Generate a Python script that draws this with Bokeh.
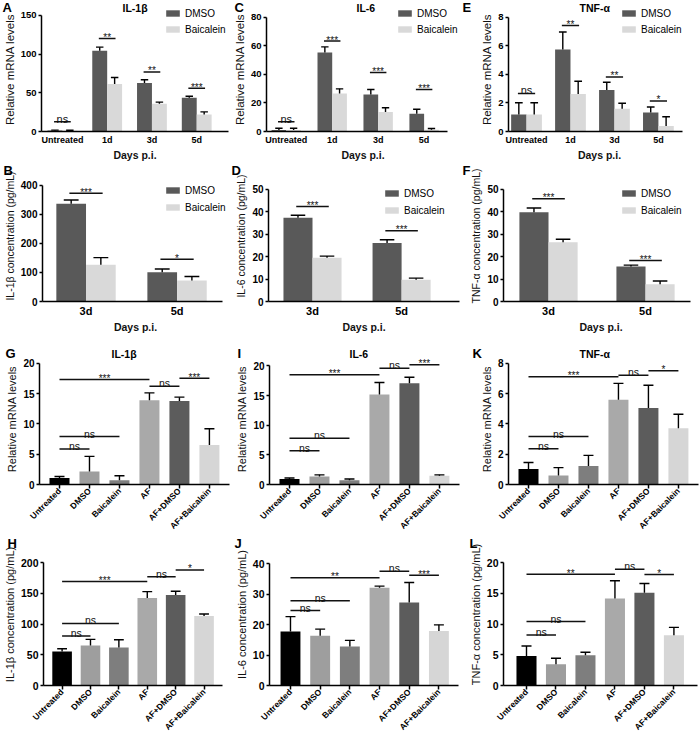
import numpy as np
from bokeh.plotting import figure
from bokeh.models import Range1d, FixedTicker, Legend, LegendItem, Title
from bokeh.layouts import row, column
from bokeh.core.properties import value
from bokeh.embed import file_html
from bokeh.resources import INLINE

FONT = "Liberation Sans"

# ---------------- categories ----------------
TIMES = ["Untreated", "1d", "3d", "5d"]
DAYS = ["3d", "5d"]
GROUPS = ["Untreated", "DMSO", "Baicalein", "AF", "AF+DMSO", "AF+Baicalein"]
SERIES = ["DMSO", "Baicalein"]
SERIES_COLORS = ["#595959", "#d9d9d9"]
GROUP_COLORS = ["#000000", "#9e9e9e", "#7e7e7e", "#a9a9a9", "#5c5c5c", "#d6d6d6"]

# ---------------- A: IL-1b mRNA ----------------
A_DMSO = [1.2, 104.4, 62.5, 43.5]
A_DMSO_ERR = [0.6, 4.6, 4.3, 2.1]
A_BAIC = [1.0, 61.3, 35.9, 22.0]
A_BAIC_ERR = [0.6, 8.4, 2.1, 3.3]
A_SIG_Y = [12.7, 120, 77, 56]
A_SIG = ["ns", "**", "**", "***"]
A_TICKS = [0, 50, 100, 150]

# ---------------- C: IL-6 mRNA ----------------
C_DMSO = [1.0, 55.4, 26.0, 12.4]
C_DMSO_ERR = [1.3, 3.9, 3.4, 3.2]
C_BAIC = [1.0, 26.7, 13.6, 1.2]
C_BAIC_ERR = [1.3, 3.2, 3.0, 0.9]
C_SIG_Y = [6.9, 63.4, 41.4, 29.4]
C_SIG = ["ns", "***", "***", "***"]
C_TICKS = [0, 20, 40, 60, 80]

# ---------------- E: TNF-a mRNA ----------------
E_DMSO = [1.2, 5.75, 2.9, 1.33]
E_DMSO_ERR = [0.82, 1.22, 0.55, 0.39]
E_BAIC = [1.2, 2.62, 1.6, 0.39]
E_BAIC_ERR = [0.82, 0.9, 0.38, 0.64]
E_SIG_Y = [2.67, 7.43, 3.82, 2.14]
E_SIG = ["ns", "**", "**", "*"]
E_TICKS = [0, 2, 4, 6, 8]

# ---------------- B: IL-1b protein ----------------
B_DMSO = [336, 100.6]
B_DMSO_ERR = [13, 11]
B_BAIC = [126, 72.6]
B_BAIC_ERR = [25, 13.4]
B_SIG_Y = [372, 145]
B_SIG = ["***", "*"]
B_TICKS = [0, 100, 200, 300, 400]

# ---------------- D: IL-6 protein ----------------
D_DMSO = [37.3, 26.0]
D_DMSO_ERR = [1.1, 1.5]
D_BAIC = [19.5, 9.7]
D_BAIC_ERR = [0.7, 0.7]
D_SIG_Y = [42.3, 31.5]
D_SIG = ["***", "***"]
D_TICKS = [0, 10, 20, 30, 40, 50]

# ---------------- F: TNF-a protein ----------------
F_DMSO = [39.7, 15.6]
F_DMSO_ERR = [1.9, 0.6]
F_BAIC = [26.4, 7.7]
F_BAIC_ERR = [1.3, 1.4]
F_SIG_Y = [45.7, 18.2]
F_SIG = ["***", "***"]
F_TICKS = [0, 10, 20, 30, 40, 50]

# ---------------- G: IL-1b mRNA, AF ----------------
G_VALS = [1.07, 2.13, 0.69, 13.9, 13.76, 6.5]
G_ERR = [0.26, 2.51, 0.75, 1.2, 0.64, 2.7]
G_SIG_FROM = [0, 3, 4, 0, 0]
G_SIG_TO = [3, 4, 5, 2, 1]
G_SIG_Y = [17.3, 16.2, 17.5, 7.9, 5.87]
G_SIG = ["***", "ns", "***", "ns", "ns"]
G_TICKS = [0, 5, 10, 15, 20]

# ---------------- I: IL-6 mRNA, AF ----------------
I_VALS = [0.92, 1.36, 0.71, 15.2, 17.1, 1.47]
I_ERR = [0.17, 0.27, 0.21, 2.0, 1.0, 0.16]
I_SIG_FROM = [0, 3, 4, 0, 0]
I_SIG_TO = [3, 4, 5, 2, 1]
I_SIG_Y = [18.5, 19.6, 20.2, 7.8, 5.7]
I_SIG = ["***", "ns", "***", "ns", "ns"]
I_TICKS = [0, 5, 10, 15, 20]

# ---------------- K: TNF-a mRNA, AF ----------------
K_VALS = [1.02, 0.6, 1.22, 5.59, 5.05, 3.71]
K_ERR = [0.43, 0.51, 0.7, 1.08, 1.5, 0.92]
K_SIG_FROM = [0, 3, 4, 0, 0]
K_SIG_TO = [3, 4, 5, 2, 1]
K_SIG_Y = [7.1, 7.2, 7.5, 3.16, 2.35]
K_SIG = ["***", "ns", "*", "ns", "ns"]
K_TICKS = [0, 2, 4, 6, 8]

# ---------------- H: IL-1b protein, AF ----------------
H_VALS = [55.4, 65.2, 62, 142.4, 147.3, 113]
H_ERR = [4.4, 9.8, 12.5, 10.3, 6, 3.3]
H_SIG_FROM = [0, 3, 4, 0, 0]
H_SIG_TO = [3, 4, 5, 2, 1]
H_SIG_Y = [169, 177, 188, 101, 80.4]
H_SIG = ["***", "ns", "*", "ns", "ns"]
H_TICKS = [0, 50, 100, 150, 200]

# ---------------- J: IL-6 protein, AF ----------------
J_VALS = [17.7, 16.3, 12.8, 32.1, 27.2, 17.9]
J_ERR = [4.9, 2.2, 2.0, 0.5, 6.6, 2.0]
J_SIG_FROM = [0, 3, 4, 0, 0]
J_SIG_TO = [3, 4, 5, 2, 1]
J_SIG_Y = [35.4, 37.5, 36.2, 27.8, 24.6]
J_SIG = ["**", "ns", "***", "ns", "ns"]
J_TICKS = [0, 10, 20, 30, 40]

# ---------------- L: TNF-a protein, AF ----------------
L_VALS = [4.8, 3.46, 4.92, 14.16, 15.1, 8.16]
L_ERR = [1.63, 0.97, 0.48, 2.87, 1.5, 1.3]
L_SIG_FROM = [0, 3, 4, 0, 0]
L_SIG_TO = [3, 4, 5, 2, 1]
L_SIG_Y = [18.1, 18.9, 18.05, 10.4, 8.2]
L_SIG = ["**", "ns", "*", "ns", "ns"]
L_TICKS = [0, 5, 10, 15, 20]

# ---------------- layout (page pixel boxes) ----------------
C1, C2, C3 = (0, 230), (230, 460), (460, 700)
R1, R2, R3, R4 = (0, 163), (163, 335), (335, 537), (537, 740)

# frame = (left, right, top, bottom) in page px; xr = x range; xend = end of x axis line
LAY = {
    "A": dict(col=C1, row=R1, frame=(40, 228, 7, 133), xr=(-0.467, 3.71), xend=3.71, yend=160.2, bw=0.333),
    "C": dict(col=C2, row=R1, frame=(263, 459, 7, 133), xr=(-0.43, 3.77), xend=3.51, yend=86.9, bw=0.32),
    "E": dict(col=C3, row=R1, frame=(508, 690, 7, 133), xr=(-0.41, 3.73), xend=3.55, yend=8.69, bw=0.35),
    "B": dict(col=C1, row=R2, frame=(40, 228, 170, 304), xr=(-0.478, 1.565), xend=1.5, yend=450.4, bw=0.326),
    "D": dict(col=C2, row=R2, frame=(268, 459, 170, 304), xr=(-0.494, 1.65), xend=1.65, yend=58.3, bw=0.326),
    "F": dict(col=C3, row=R2, frame=(503, 698, 170, 304), xr=(-0.464, 1.546), xend=1.46, yend=58.3, bw=0.30),
    "G": dict(col=C1, row=R3, frame=(39, 229, 353, 488), xr=(-0.667, 5.67), xend=5.67, yend=21.6, bw=0.667),
    "I": dict(col=C2, row=R3, frame=(269, 459, 353, 488), xr=(-0.667, 5.67), xend=5.67, yend=22.1, bw=0.667),
    "K": dict(col=C3, row=R3, frame=(508, 698, 353, 488), xr=(-0.667, 5.67), xend=5.67, yend=8.64, bw=0.667),
    "H": dict(col=C1, row=R4, frame=(39, 224, 543, 685), xr=(-0.655, 5.72), xend=5.66, yend=231, bw=0.69),
    "J": dict(col=C2, row=R4, frame=(269, 458, 543, 685), xr=(-0.707, 5.66), xend=5.66, yend=46.6, bw=0.67),
    "L": dict(col=C3, row=R4, frame=(503, 697, 543, 685), xr=(-0.78, 5.8), xend=5.8, yend=23.1, bw=0.68),
}


def side_text(p, key, text, x_left, size, standoff):
    L = LAY[key]["frame"][0]
    p.add_layout(Title(text=text, align="left", offset=x_left - L, vertical_align="middle",
                       standoff=standoff, text_font=FONT, text_font_size=size,
                       text_font_style="bold", text_color="black"), "above")


def make_fig(cfg, yticks, ylabel, cats, ytick_size, ylabel_size, xtick_size,
             xlabel=None, rotated=False):
    x0, x1 = cfg["col"]
    y0, y1 = cfg["row"]
    L, R, T, B = cfg["frame"]
    p = figure(width=x1 - x0, height=y1 - y0, output_backend="svg", toolbar_location=None,
               x_range=Range1d(*cfg["xr"]), y_range=Range1d(0, cfg["yend"]),
               min_border_left=L - x0, min_border_right=x1 - R,
               min_border_top=T - y0, min_border_bottom=y1 - B)
    p.outline_line_color = None
    p.xgrid.visible = False
    p.ygrid.visible = False
    for ax in (p.xaxis[0], p.yaxis[0]):
        ax.axis_line_width = 1.5
        ax.axis_line_color = "black"
        ax.major_tick_line_width = 1.5
        ax.major_tick_line_color = "black"
        ax.minor_tick_line_color = None
        ax.major_tick_in = 0
        ax.major_label_text_font = FONT
        ax.major_label_text_font_style = "bold"
        ax.major_label_text_color = "black"
        ax.axis_label_text_font = FONT
        ax.axis_label_text_color = "#111111"
    ya = p.yaxis[0]
    ya.ticker = FixedTicker(ticks=yticks, minor_ticks=[])
    ya.bounds = (0, yticks[-1])
    ya.major_tick_out = 3
    ya.major_label_standoff = 2
    ya.major_label_text_font_size = ytick_size
    ya.axis_label = ylabel
    ya.axis_label_standoff = 2
    ya.axis_label_text_font_size = ylabel_size
    ya.axis_label_text_font_style = "normal"
    xa = p.xaxis[0]
    xa.ticker = FixedTicker(ticks=list(range(len(cats))), minor_ticks=[])
    xa.major_label_overrides = {i: c for i, c in enumerate(cats)}
    xa.major_label_text_font_size = xtick_size
    xa.bounds = (cfg["xr"][0], cfg["xend"])
    if rotated:
        xa.major_tick_out = 4
        xa.major_label_standoff = 1
        xa.major_label_orientation = np.pi / 4
    else:
        xa.major_tick_out = 0
        xa.major_label_standoff = 3
    if xlabel:
        xa.axis_label = xlabel
        xa.axis_label_standoff = 1
        xa.axis_label_text_font_size = "10.5px"
        xa.axis_label_text_font_style = "bold"
    return p


def err_bars(p, xs, vals, errs, cap):
    xs = np.asarray(xs, float)
    vals = np.asarray(vals, float)
    tops = vals + np.asarray(errs, float)
    p.segment(x0=xs, y0=vals, x1=xs, y1=tops, line_color="black", line_width=1.4)
    p.segment(x0=xs - cap / 2, y0=tops, x1=xs + cap / 2, y1=tops, line_color="black", line_width=1.4)


def sig_marks(p, xl, xr, ys, labels, ns_size, star_size):
    xl = np.asarray(xl, float)
    xr = np.asarray(xr, float)
    ys = np.asarray(ys, float)
    p.segment(x0=xl, y0=ys, x1=xr, y1=ys, line_color="#111111", line_width=1.5)
    xm = (xl + xr) / 2
    st = [k for k, s in enumerate(labels) if s != "ns"]
    ns = [k for k, s in enumerate(labels) if s == "ns"]
    if st:
        p.text(x=xm[st], y=ys[st], text=[labels[k] for k in st], text_font=value(FONT),
               text_font_size=star_size, text_align="center", text_baseline="alphabetic",
               y_offset=-1, text_color="#111111")
    if ns:
        p.text(x=xm[ns], y=ys[ns], text=[labels[k] for k in ns], text_font=value(FONT),
               text_font_size=ns_size, text_align="center", text_baseline="alphabetic",
               y_offset=-3, text_color="#111111")


def grouped_panel(key, cats, dm, dm_err, bc, bc_err, sig_y, sig, yticks, ylabel,
                  ytick_size, ylabel_size, xtick_size, legend_pos, legend_spacing):
    cfg = LAY[key]
    p = make_fig(cfg, yticks, ylabel, cats, ytick_size, ylabel_size, xtick_size, xlabel="Days p.i.")
    w = cfg["bw"]
    idx = np.arange(len(cats), dtype=float)
    r1 = p.vbar(x=idx - w / 2, top=dm, width=w, fill_color=SERIES_COLORS[0], line_color=None)
    r2 = p.vbar(x=idx + w / 2, top=bc, width=w, fill_color=SERIES_COLORS[1], line_color=None)
    err_bars(p, idx - w / 2, dm, dm_err, w * 0.5)
    err_bars(p, idx + w / 2, bc, bc_err, w * 0.5)
    d = w * 0.56
    sig_marks(p, idx - d, idx + d, sig_y, sig, "11px", "10px")
    L, R, T, B = cfg["frame"]
    lx, lbottom = legend_pos
    leg = Legend(items=[LegendItem(label=SERIES[0], renderers=[r1]),
                        LegendItem(label=SERIES[1], renderers=[r2])],
                 location=(lx - L, B - lbottom), orientation="vertical",
                 glyph_width=17, glyph_height=8, label_height=12, label_standoff=4,
                 spacing=legend_spacing, padding=0, margin=0, border_line_color=None,
                 background_fill_alpha=0, label_text_font=FONT, label_text_font_size="10px",
                 label_text_color="black")
    p.add_layout(leg)
    return p


def group_panel(key, vals, errs, s_from, s_to, sig_y, sig, yticks, ylabel,
                ytick_size, ylabel_size):
    cfg = LAY[key]
    p = make_fig(cfg, yticks, ylabel, GROUPS, ytick_size, ylabel_size, "8.5px", rotated=True)
    w = cfg["bw"]
    idx = np.arange(len(GROUPS), dtype=float)
    p.vbar(x=idx, top=vals, width=w, fill_color=GROUP_COLORS, line_color=None)
    err_bars(p, idx, vals, errs, w * 0.5)
    sig_marks(p, idx[s_from], idx[s_to], sig_y, sig, "10.5px", "10px")
    return p


pA = grouped_panel("A", TIMES, A_DMSO, A_DMSO_ERR, A_BAIC, A_BAIC_ERR, A_SIG_Y, A_SIG, A_TICKS,
                   "Relative mRNA levels", "9.5px", "11.5px", "9px", (163, 37), 4)
pC = grouped_panel("C", TIMES, C_DMSO, C_DMSO_ERR, C_BAIC, C_BAIC_ERR, C_SIG_Y, C_SIG, C_TICKS,
                   "Relative mRNA levels", "9.5px", "11.5px", "9px", (393, 37), 4)
pE = grouped_panel("E", TIMES, E_DMSO, E_DMSO_ERR, E_BAIC, E_BAIC_ERR, E_SIG_Y, E_SIG, E_TICKS,
                   "Relative mRNA levels", "9.5px", "11.5px", "9px", (620, 37), 4)
pB = grouped_panel("B", DAYS, B_DMSO, B_DMSO_ERR, B_BAIC, B_BAIC_ERR, B_SIG_Y, B_SIG, B_TICKS,
                   "IL-1β concentration (pg/mL)", "10px", "10.5px", "11px", (162, 216), 5)
pD = grouped_panel("D", DAYS, D_DMSO, D_DMSO_ERR, D_BAIC, D_BAIC_ERR, D_SIG_Y, D_SIG, D_TICKS,
                   "IL-6 concentration (pg/mL)", "10px", "10.5px", "11px", (383, 219), 5)
pF = grouped_panel("F", DAYS, F_DMSO, F_DMSO_ERR, F_BAIC, F_BAIC_ERR, F_SIG_Y, F_SIG, F_TICKS,
                   "TNF-α concentration (pg/mL)", "10px", "10.5px", "11px", (620, 219), 5)

pG = group_panel("G", G_VALS, G_ERR, G_SIG_FROM, G_SIG_TO, G_SIG_Y, G_SIG, G_TICKS,
                 "Relative mRNA levels", "10px", "11px")
pI = group_panel("I", I_VALS, I_ERR, I_SIG_FROM, I_SIG_TO, I_SIG_Y, I_SIG, I_TICKS,
                 "Relative mRNA levels", "10px", "11px")
pK = group_panel("K", K_VALS, K_ERR, K_SIG_FROM, K_SIG_TO, K_SIG_Y, K_SIG, K_TICKS,
                 "Relative mRNA levels", "10px", "11px")
pH = group_panel("H", H_VALS, H_ERR, H_SIG_FROM, H_SIG_TO, H_SIG_Y, H_SIG, H_TICKS,
                 "IL-1β concentration (pg/mL)", "10.5px", "11px")
pJ = group_panel("J", J_VALS, J_ERR, J_SIG_FROM, J_SIG_TO, J_SIG_Y, J_SIG, J_TICKS,
                 "IL-6 concentration (pg/mL)", "10.5px", "11px")
pL = group_panel("L", L_VALS, L_ERR, L_SIG_FROM, L_SIG_TO, L_SIG_Y, L_SIG, L_TICKS,
                 "TNF-α concentration (pg/mL)", "10.5px", "11px")

# panel letters (left edge, page px) and panel titles (left edge, page px)
LETTERS = [("A", pA, 1), ("C", pC, 231), ("E", pE, 462),
           ("B", pB, 1), ("D", pD, 231), ("F", pF, 462),
           ("G", pG, 5), ("I", pI, 237), ("K", pK, 472),
           ("H", pH, 3), ("J", pJ, 234), ("L", pL, 469)]
for key, p, xl in LETTERS:
    side_text(p, key, key, xl, "13px", -17)

TITLES = [("A", pA, "IL-1β", 121), ("C", pC, "IL-6", 353), ("E", pE, "TNF-α", 579),
          ("G", pG, "IL-1β", 111), ("I", pI, "IL-6", 349), ("K", pK, "TNF-α", 579)]
for key, p, t, xl in TITLES:
    side_text(p, key, t, xl, "10.5px", -14)

layout = column(row(pA, pC, pE), row(pB, pD, pF), row(pG, pI, pK), row(pH, pJ, pL))
open("out.html", "w").write(file_html(layout, INLINE))
